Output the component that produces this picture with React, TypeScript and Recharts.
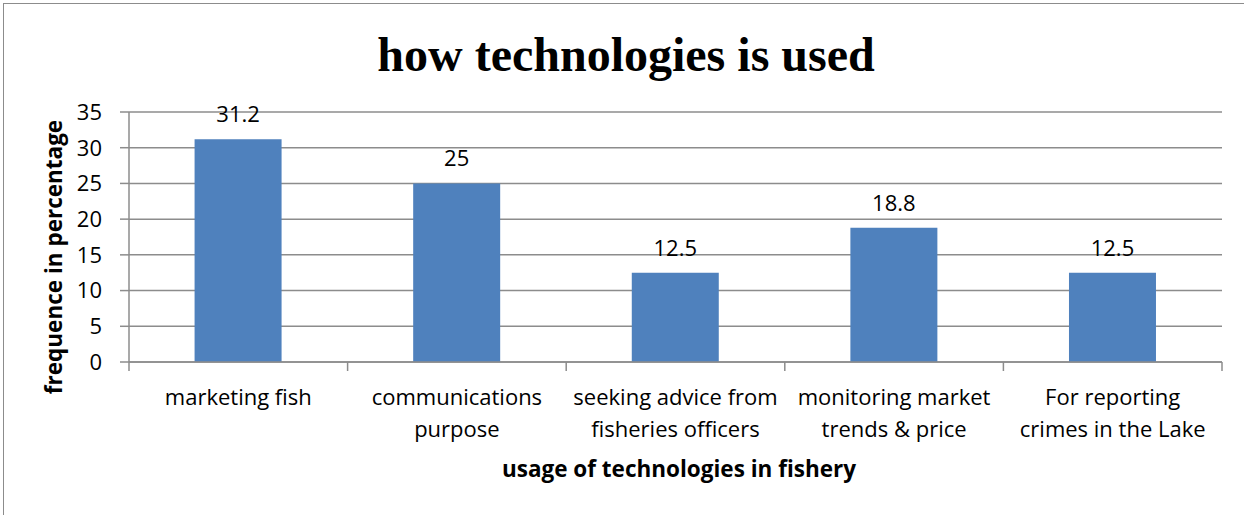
import { BarChart, Bar, XAxis, YAxis, CartesianGrid, LabelList } from 'recharts'

const categories = [
  'marketing fish',
  'communications purpose',
  'seeking advice from fisheries officers',
  'monitoring market trends & price',
  'For reporting crimes in the Lake',
]

// how each category label wraps under the axis
const categoryLines = [
  ['marketing fish'],
  ['communications', 'purpose'],
  ['seeking advice from', 'fisheries officers'],
  ['monitoring market', 'trends & price'],
  ['For reporting', 'crimes in the Lake'],
]

const frequency = [31.2, 25, 12.5, 18.8, 12.5]

const yTicks = [0, 5, 10, 15, 20, 25, 30, 35]

const data = categories.map((name, i) => ({ name, value: frequency[i] }))

const W = 1244
const H = 515
const MARGIN = { top: 112, right: 22, bottom: 0, left: 0 }
const Y_AXIS_W = 129
const X_AXIS_H = 153
const BAND = (W - MARGIN.right - Y_AXIS_W) / categories.length

const GRID = '#8c8c8c'
const FONT = '"Open Sans", Lato, sans-serif'

function CategoryTick(props: any) {
  const { x, y, index } = props
  const lines = categoryLines[index] ?? [String(props.payload?.value)]
  const last = index === categories.length - 1
  return (
    <g>
      <line x1={x - BAND / 2} x2={x - BAND / 2} y1={y} y2={y + 9} stroke={GRID} strokeWidth={1.5} />
      {last && <line x1={x + BAND / 2} x2={x + BAND / 2} y1={y} y2={y + 9} stroke={GRID} strokeWidth={1.5} />}
      {lines.map((ln, i) => (
        <text key={i} x={x} y={y + 43 + i * 32} textAnchor="middle" fontSize={22} fontFamily={FONT} fill="#000">
          {ln}
        </text>
      ))}
    </g>
  )
}

export default function App() {
  return (
    <div style={{ position: 'absolute', left: 0, top: 0, width: W, height: H, overflow: 'hidden', background: '#fff' }}>
      <div
        style={{
          position: 'absolute',
          left: 3,
          top: 3,
          width: W + 20,
          height: H + 20,
          borderLeft: `1.5px solid ${GRID}`,
          borderTop: `1.5px solid ${GRID}`,
        }}
      />
      <div
        style={{
          position: 'absolute',
          left: 0,
          top: 25,
          width: 1252,
          textAlign: 'center',
          fontFamily: '"Liberation Serif", "Times New Roman", serif',
          fontWeight: 'bold',
          fontSize: 48,
          lineHeight: '60px',
          color: '#000',
        }}
      >
        how technologies is used
      </div>
      <div style={{ position: 'absolute', left: 0, top: 0 }}>
        <BarChart width={W} height={H} data={data} margin={MARGIN} barCategoryGap="30%">
          <CartesianGrid horizontal vertical={false} stroke={GRID} strokeWidth={1.5} />
          <XAxis
            dataKey="name"
            height={X_AXIS_H}
            interval={0}
            tickSize={0}
            tickMargin={0}
            tickLine={false}
            axisLine={{ stroke: GRID, strokeWidth: 1.5 }}
            tick={<CategoryTick />}
            label={{
              content: () => (
                <text x={679} y={477} textAnchor="middle" fontSize={22.5} fontWeight="bold" fontFamily={FONT} fill="#000">
                  usage of technologies in fishery
                </text>
              ),
            }}
          />
          <YAxis
            width={Y_AXIS_W}
            domain={[0, 35]}
            ticks={yTicks}
            interval={0}
            tickSize={9}
            tickMargin={18}
            tickLine={{ stroke: GRID, strokeWidth: 1.5 }}
            axisLine={{ stroke: GRID, strokeWidth: 1.5 }}
            tick={{ fill: '#000', fontSize: 22, fontFamily: FONT }}
            label={{
              content: () => (
                <text
                  x={62}
                  y={257}
                  transform="rotate(-90 62 257)"
                  textAnchor="middle"
                  fontSize={22.5}
                  fontWeight="bold"
                  fontFamily={FONT}
                  fill="#000"
                >
                  frequence in percentage
                </text>
              ),
            }}
          />
          <Bar dataKey="value" fill="#4f81bd" isAnimationActive={false}>
            <LabelList dataKey="value" position="top" offset={17} fill="#000" fontSize={22} fontFamily={FONT} />
          </Bar>
        </BarChart>
      </div>
    </div>
  )
}
